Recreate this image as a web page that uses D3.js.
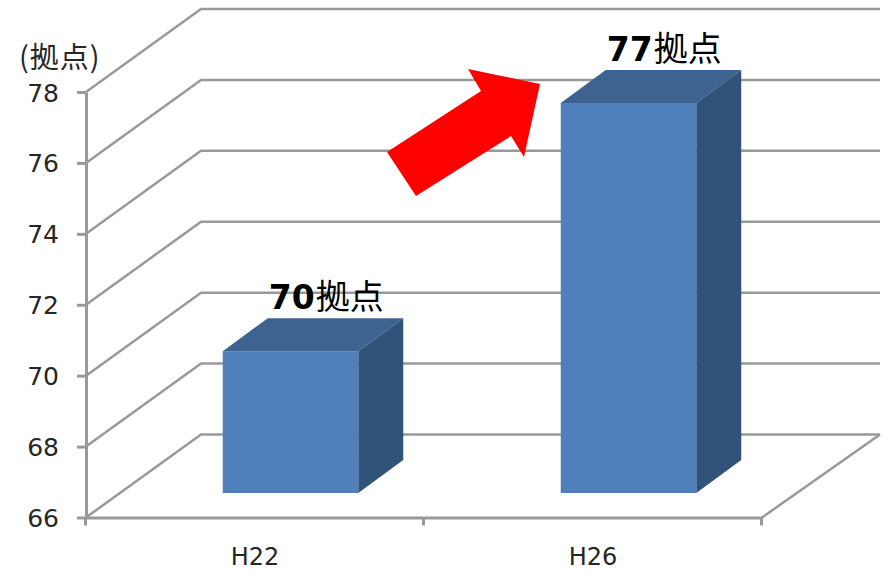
<!DOCTYPE html>
<html><head><meta charset="utf-8">
<script src="https://cdn.jsdelivr.net/npm/d3@7"></script>
<style>html,body{margin:0;padding:0;background:#fff}svg{display:block}</style>
</head><body><svg id="c" width="888" height="573"></svg>
<script>
const categories = ["H22", "H26"];
const seriesValues = [70, 77];
const yTicks = [66, 68, 70, 72, 74, 76, 78];
const unitLabel = "(拠点)";
const valueSuffix = "拠点";

const svg = d3.select("#c");
const CJK = "'Noto Sans CJK JP'";
const LAT = "'DejaVu Sans'";
const GRID = "#999999", TEXT = "#262626";

const y = d3.scaleLinear().domain([66, 78]).range([517.5, 92]);
const x = d3.scaleBand().domain(categories).range([86, 762]);
const wall = {dx: 115, dy: -83};
const barOff = {dx: 35.5, dy: -24.5};
const barDepth = {dx: 45, dy: -33};
const barW = 135.5;

const grid = svg.append("g").attr("fill", "none").attr("stroke", GRID);
yTicks.forEach(t => {
  grid.append("polyline").attr("stroke-width", 2.5).attr("stroke-linejoin", "round")
    .attr("points", [[86, y(t)], [86 + wall.dx, y(t) + wall.dy], [880, y(t) + wall.dy]].join(" "));
});
grid.append("line").attr("stroke-width", 2.5)
  .attr("x1", 762).attr("y1", y(66)).attr("x2", 880).attr("y2", y(66) + wall.dy);

const yAxis = svg.append("g").attr("transform", "translate(86,0)")
  .call(d3.axisLeft(y).tickValues(yTicks).tickSize(9).tickPadding(18).tickSizeOuter(0));
yAxis.selectAll("path,line").attr("stroke", GRID).attr("stroke-width", 3);
yAxis.selectAll("text").attr("font-family", LAT).attr("font-size", 25).attr("fill", TEXT).attr("dy", "0.36em");

const xAxis = svg.append("g").attr("transform", `translate(0,${y(66)})`)
  .call(d3.axisBottom(x).tickSize(0).tickPadding(30).tickSizeOuter(0));
xAxis.select("path").attr("stroke", GRID).attr("stroke-width", 3);
xAxis.selectAll("text").attr("font-family", LAT).attr("font-size", 24).attr("fill", TEXT).attr("dy", "0.71em");
const edges = [x.range()[0], ...categories.map(c => x(c) + x.bandwidth())];
svg.append("g").selectAll("line").data(edges).join("line")
  .attr("x1", d => d - 0.5).attr("x2", d => d - 0.5).attr("y1", y(66)).attr("y2", y(66) + 8)
  .attr("stroke", GRID).attr("stroke-width", 3);

const rows = categories.map((c, i) => ({c, v: seriesValues[i]}));
const bars = svg.append("g").selectAll("g").data(rows).join("g");
const left = d => x(d.c) + x.bandwidth() / 2 - barW / 2 + barOff.dx;
const topY = d => y(d.v) + barOff.dy;
const botY = y(66) + barOff.dy;
bars.append("polygon").attr("fill", "#3e6390").attr("points", d => {
  const l = left(d), t = topY(d);
  return [[l, t], [l + barDepth.dx, t + barDepth.dy], [l + barW + barDepth.dx, t + barDepth.dy], [l + barW, t]].join(" ");
});
bars.append("polygon").attr("fill", "#325379").attr("points", d => {
  const r = left(d) + barW, t = topY(d);
  return [[r, t], [r + barDepth.dx, t + barDepth.dy], [r + barDepth.dx, botY + barDepth.dy], [r, botY]].join(" ");
});
bars.append("rect").attr("fill", "#4f80bc")
  .attr("x", left).attr("y", topY).attr("width", barW).attr("height", d => botY - topY(d));

const labels = svg.append("g").selectAll("text").data(rows).join("text")
  .attr("x", d => left(d) + 46).attr("y", d => topY(d) - 42).attr("fill", "#000");
labels.append("tspan").attr("font-family", LAT).attr("font-weight", "bold").attr("font-size", 33).text(d => d.v);
labels.append("tspan").attr("font-family", CJK).attr("font-size", 34).attr("dx", 1).text(valueSuffix);

svg.append("text").attr("x", 19).attr("y", 68).attr("letter-spacing", 1)
  .attr("font-family", CJK).attr("font-size", 29).attr("fill", TEXT).text(unitLabel);

svg.append("polygon").attr("fill", "#ff0000")
  .attr("points", "387,152 481,91 468,69 540,84 524,157 511,136 416,196");
</script></body></html>
